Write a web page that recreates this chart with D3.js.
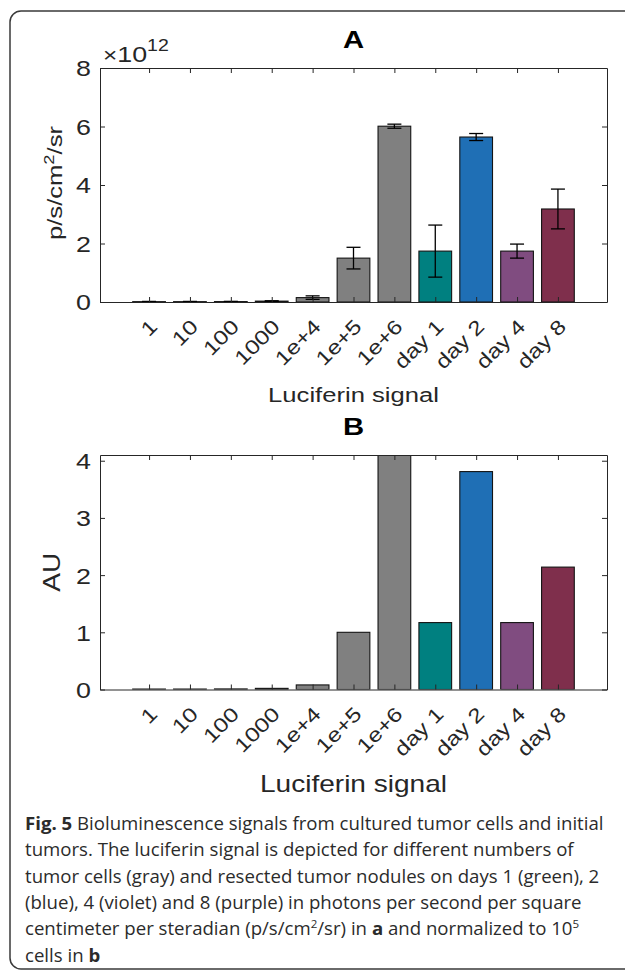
<!DOCTYPE html>
<html>
<head>
<meta charset="utf-8">
<script src="https://cdn.jsdelivr.net/npm/d3@7"></script>
<style>
  body { margin: 0; background: #fff; }
  svg { display: block; }
</style>
</head>
<body>
<script>
// values (panel A in units of 1e12 p/s/cm2/sr)
var categories = ["1", "10", "100", "1000", "1e+4", "1e+5", "1e+6", "day 1", "day 2", "day 4", "day 8"];
var barColors = ["#808080", "#808080", "#808080", "#808080", "#808080", "#808080", "#808080",
                 "#008080", "#1f6fb5", "#804c80", "#7f2f4c"];
var signalA = [0.012, 0.012, 0.014, 0.03, 0.15, 1.50, 6.01, 1.74, 5.64, 1.74, 3.18];
var errorA  = [0.008, 0.008, 0.008, 0.012, 0.06, 0.37, 0.07, 0.89, 0.12, 0.24, 0.68];
var signalB = [0.008, 0.008, 0.010, 0.02, 0.08, 1.00, 4.20, 1.17, 3.81, 1.17, 2.14];
var ticksA = [0, 2, 4, 6, 8];
var ticksB = [0, 1, 2, 3, 4];
var captionLines = [
  [["Fig. 5", "b"], [" Bioluminescence signals from cultured tumor cells and initial"]],
  [["tumors. The luciferin signal is depicted for different numbers of"]],
  [["tumor cells (gray) and resected tumor nodules on days 1 (green), 2"]],
  [["(blue), 4 (violet) and 8 (purple) in photons per second per square"]],
  [["centimeter per steradian (p/s/cm"], ["2", "sup"], ["/sr) in "], ["a", "b"], [" and normalized to 10"], ["5", "sup"]],
  [["cells in "], ["b", "b"]]
];

var FONT = "'Liberation Sans', Arial, Helvetica, sans-serif";
var INK = "#262626";
var SX = 1.22;   // matlab text in the figure is a bit wider than Arial

function place(x, y, rot, sx) {
  return "translate(" + x + "," + y + ")" + (rot ? " rotate(" + rot + ")" : "") + " scale(" + sx + ",1)";
}

var lucifig = {};
lucifig.Panel = function( svg, opts ) {
  this._svg = svg;
  this._opts = opts;
  this._x = d3.scaleLinear().domain( [ -0.2, 12.2 ] ).range( [ opts.left, opts.right ] );
  this._y = d3.scaleLinear().domain( opts.ylim ).range( [ opts.bottom, opts.top ] );
  this.render();
};

lucifig.Panel.prototype = {

  render: function() {
    this.drawBars();
    this.drawAxes();
    this.drawLabels();
  },

  drawBars: function() {
    var o = this._opts, x = this._x, y = this._y;
    var clipId = "clip-" + o.name;
    this._svg.append( "clipPath" ).attr( "id", clipId ).append( "rect" )
      .attr( "x", o.left ).attr( "y", o.top )
      .attr( "width", o.right - o.left ).attr( "height", o.bottom - o.top );
    var layer = this._svg.append( "g" ).attr( "class", "bars " + o.name )
      .attr( "clip-path", "url(#" + clipId + ")" );
    var w = x( 1.4 ) - x( 0.6 );
    layer.selectAll( "rect" ).data( o.values ).enter().append( "rect" )
      .attr( "x", function( d, i ) { return x( i + 1 ) - w / 2; } )
      .attr( "y", function( d ) { return y( d ); } )
      .attr( "width", w )
      .attr( "height", function( d ) { return y( 0 ) - y( d ); } )
      .attr( "fill", function( d, i ) { return barColors[ i ]; } )
      .attr( "stroke", "#141414" )
      .attr( "stroke-width", 1.1 );

    if( o.errors ) {
      var cap = 7;
      var eb = this._svg.append( "g" ).attr( "class", "errorbars" )
        .attr( "stroke", "#000" ).attr( "stroke-width", 1.3 ).attr( "fill", "none" );
      var grp = eb.selectAll( "g" ).data( o.values ).enter().append( "g" );
      grp.append( "line" )
        .attr( "x1", function( d, i ) { return x( i + 1 ); } )
        .attr( "x2", function( d, i ) { return x( i + 1 ); } )
        .attr( "y1", function( d, i ) { return y( d - o.errors[ i ] ); } )
        .attr( "y2", function( d, i ) { return y( d + o.errors[ i ] ); } );
      [ -1, 1 ].forEach( function( s ) {
        grp.append( "line" )
          .attr( "x1", function( d, i ) { return x( i + 1 ) - cap; } )
          .attr( "x2", function( d, i ) { return x( i + 1 ) + cap; } )
          .attr( "y1", function( d, i ) { return y( d + s * o.errors[ i ] ); } )
          .attr( "y2", function( d, i ) { return y( d + s * o.errors[ i ] ); } );
      } );
    }
  },

  drawAxes: function() {
    var o = this._opts, x = this._x, y = this._y, svg = this._svg;
    var idx = d3.range( 1, categories.length + 1 );

    var bottom = svg.append( "g" ).attr( "transform", "translate(0," + o.bottom + ")" )
      .call( d3.axisBottom( x ).tickValues( idx ).tickSize( -5 ).tickSizeOuter( 0 )
        .tickFormat( function( d ) { return categories[ d - 1 ]; } ) );
    bottom.selectAll( "text" )
      .attr( "x", null ).attr( "y", null ).attr( "dy", "0.35em" )
      .attr( "text-anchor", "end" )
      .attr( "transform", place( 4, 21, -45, SX ) )
      .style( "font-size", o.tickFont + "px" );

    svg.append( "g" ).attr( "transform", "translate(0," + o.top + ")" )
      .call( d3.axisTop( x ).tickValues( idx ).tickSize( -5 ).tickSizeOuter( 0 ).tickFormat( "" ) );

    var left = svg.append( "g" ).attr( "transform", "translate(" + o.left + ",0)" )
      .call( d3.axisLeft( y ).tickValues( o.ticks ).tickSize( -5 ).tickSizeOuter( 0 ).tickFormat( d3.format( "d" ) ) );
    left.selectAll( "text" )
      .attr( "x", null ).attr( "dy", "0.36em" )
      .attr( "transform", place( -9, 0, 0, SX ) )
      .style( "font-size", o.ytickFont + "px" );

    svg.append( "g" ).attr( "transform", "translate(" + o.right + ",0)" )
      .call( d3.axisRight( y ).tickValues( o.ticks ).tickSize( -5 ).tickSizeOuter( 0 ).tickFormat( "" ) );

    svg.selectAll( ".domain, .tick line" ).attr( "stroke", INK ).attr( "stroke-width", 1 );
    svg.selectAll( ".tick text" ).attr( "fill", INK ).style( "font-family", FONT );
  },

  drawLabels: function() {
    var o = this._opts, svg = this._svg;
    var mid = ( o.left + o.right ) / 2;
    svg.append( "text" ).text( o.title )
      .attr( "transform", place( mid, o.titleY, 0, SX ) )
      .attr( "text-anchor", "middle" )
      .style( "font", "bold " + o.titleFont + "px " + FONT ).attr( "fill", "#000" );
    svg.append( "text" ).text( "Luciferin signal" )
      .attr( "transform", place( mid, o.xlabelY, 0, SX ) )
      .attr( "text-anchor", "middle" )
      .style( "font", o.xlabelFont + "px " + FONT ).attr( "fill", INK );
    var yl = svg.append( "text" )
      .attr( "transform", place( o.ylabelX, ( o.top + o.bottom ) / 2 + o.ylabelShift, -90, SX ) )
      .attr( "text-anchor", "middle" )
      .style( "font", o.ylabelFont + "px " + FONT ).attr( "fill", INK );
    o.ylabel.forEach( function( part ) {
      var t = yl.append( "tspan" ).text( part[ 0 ] );
      if( part[ 1 ] ) t.attr( "dy", part[ 1 ] ).style( "font-size", part[ 2 ] );
    } );
  }
};

var svg = d3.select( "body" ).append( "svg" ).attr( "width", 625 ).attr( "height", 972 )
  .attr( "xmlns", "http://www.w3.org/2000/svg" );

// rounded frame around the figure (right edge runs off the page)
svg.append( "rect" ).attr( "x", 10 ).attr( "y", 11 ).attr( "width", 660 ).attr( "height", 958 )
  .attr( "rx", 11 ).attr( "fill", "none" ).attr( "stroke", "#3a3a3a" ).attr( "stroke-width", 1.5 );

new lucifig.Panel( svg, {
  name: "A", title: "A", values: signalA, errors: errorA, ticks: ticksA, ylim: [ 0, 8 ],
  left: 100, right: 607, top: 68, bottom: 302,
  tickFont: 20, ytickFont: 22, titleY: 48, titleFont: 24, xlabelY: 402, xlabelFont: 21,
  ylabelX: 62, ylabelShift: -2, ylabelFont: 21,
  ylabel: [ [ "p/s/cm" ], [ "2", "-8px", "15px" ], [ "/sr", "8px", "21px" ] ]
} );

// exponent label above panel A
var expo = svg.append( "text" ).attr( "transform", place( 103, 62, 0, SX ) )
  .style( "font-family", FONT ).attr( "fill", INK );
expo.append( "tspan" ).text( "\u00d7" ).style( "font-size", "20px" );
expo.append( "tspan" ).text( "10" ).style( "font-size", "22px" );
expo.append( "tspan" ).text( "12" ).attr( "dy", "-11px" ).style( "font-size", "16px" );

new lucifig.Panel( svg, {
  name: "B", title: "B", values: signalB, errors: null, ticks: ticksB, ylim: [ 0, 4.1 ],
  left: 100, right: 607, top: 455, bottom: 689.5,
  tickFont: 20, ytickFont: 22, titleY: 435, titleFont: 24, xlabelY: 792, xlabelFont: 23,
  ylabelX: 60, ylabelShift: 0, ylabelFont: 23,
  ylabel: [ [ "AU" ] ]
} );

// caption
var capFont = "'Open Sans', 'Noto Sans', sans-serif";
var capG = svg.append( "g" ).style( "font-family", capFont ).attr( "fill", "#2b2b2b" );
var capLines = captionLines.map( function( segs, li ) {
  var t = capG.append( "text" ).attr( "x", 25 ).attr( "y", 830 + li * 26.3 );
  var lift = 0;
  segs.forEach( function( s ) {
    var sp = t.append( "tspan" ).text( s[ 0 ] );
    if( s[ 1 ] === "b" ) sp.style( "font-weight", "bold" );
    if( s[ 1 ] === "sup" ) {
      sp.attr( "dy", "-7px" ).style( "font-size", "0.62em" );
      lift = 7;
    } else if( lift ) {
      sp.attr( "dy", lift + "px" );
      lift = 0;
    }
  } );
  return t;
} );
capG.style( "font-size", "16px" );
var w0 = capLines[ 0 ].node().getComputedTextLength();
capG.style( "font-size", ( 16 * 579 / w0 ).toFixed( 2 ) + "px" );
</script>
</body>
</html>
